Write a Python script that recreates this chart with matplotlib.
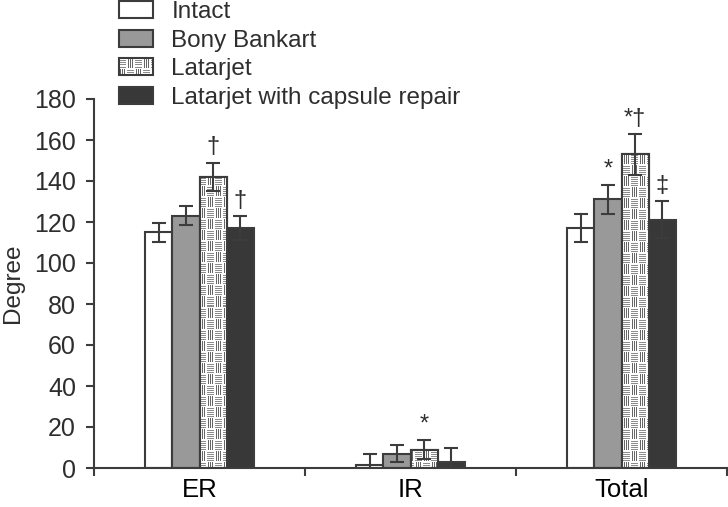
import numpy as np
import matplotlib
matplotlib.use("Agg")
import matplotlib.pyplot as plt
from matplotlib.patches import Patch, Rectangle
from matplotlib.legend_handler import HandlerBase
from matplotlib.image import BboxImage
from matplotlib.transforms import Bbox, TransformedBbox

plt.rcParams["font.family"] = ["Liberation Sans", "DejaVu Sans"]

# 데이터
categories = ["ER", "IR", "Total"]
groups = ["Intact", "Bony Bankart", "Latarjet", "Latarjet with capsule repair"]
means = {
    "Intact": [115, 1.5, 117],
    "Bony Bankart": [123, 7, 131],
    "Latarjet": [142, 9, 153],
    "Latarjet with capsule repair": [117, 3, 121],
}
errors = {
    "Intact": [4.7, 5.5, 7],
    "Bony Bankart": [4.7, 4.3, 7],
    "Latarjet": [7, 4.7, 10],
    "Latarjet with capsule repair": [6, 7, 9],
}
marks = {
    "Intact": ["", "", ""],
    "Bony Bankart": ["", "", "*"],
    "Latarjet": ["\u2020", "*", "*\u2020"],
    "Latarjet with capsule repair": ["\u2020", "", "\u2021"],
}

EDGE = "#3c3c3c"
TXT = "#2e2e2e"
colors = {
    "Intact": "white",
    "Bony Bankart": "#999999",
    "Latarjet": "white",
    "Latarjet with capsule repair": "#383838",
}


def make_texture(h, w):
    # 가로줄 블록과 세로줄 블록이 번갈아 나오는 무늬
    img = np.ones((h, w, 3))
    rr, cc = np.mgrid[0:h, 0:w]
    bw, bh = 8, 11
    br, bc = rr // bh, cc // bw
    dy, dx = rr % bh, cc % bw
    horiz = (br + bc) % 2 == 0
    hline = horiz & (dy % 2 == 1) & (dy <= 9) & (dx <= 6)
    vline = (~horiz) & (dx % 2 == 1) & (dx <= 5) & (dy <= 9)
    img[hline] = 0.55
    img[vline] = 0.4
    return img


class TextureHandler(HandlerBase):
    def create_artists(self, legend, orig_handle, xdescent, ydescent,
                       width, height, fontsize, trans):
        bb = Bbox.from_bounds(-xdescent, -ydescent, width, height)
        im = BboxImage(TransformedBbox(bb, trans), interpolation="nearest")
        im.set_data(make_texture(17, 35))
        rect = Rectangle((-xdescent, -ydescent), width, height,
                         facecolor="none", edgecolor=EDGE, lw=1.5,
                         transform=trans)
        return [im, rect]


W, H = 728, 507
fig = plt.figure(figsize=(W / 100, H / 100), dpi=100)
ax_l, ax_r, ax_b, ax_t = 94, 727, 468, 99
ax = fig.add_axes([ax_l / W, 1 - ax_b / H, (ax_r - ax_l) / W, (ax_b - ax_t) / H])

x = np.arange(len(categories)) + 0.5
width = 0.128
texture = make_texture(ax_b - ax_t, ax_r - ax_l)

for i, g in enumerate(groups):
    xs = x + (i - 1.5) * width
    bars = ax.bar(xs, means[g], width, color=colors[g], edgecolor=EDGE,
                  linewidth=1.5, zorder=2)
    if g == "Latarjet":
        for b in bars:
            im = ax.imshow(texture, extent=(0, 3, 0, 180), aspect="auto",
                           interpolation="nearest", zorder=2.5)
            im.set_clip_path(b)
        ax.bar(xs, means[g], width, color="none", edgecolor=EDGE,
               linewidth=1.5, zorder=3)
    ax.errorbar(xs, means[g], yerr=errors[g], fmt="none", ecolor=EDGE,
                elinewidth=1.5, capsize=4.7, capthick=1.5, zorder=4)
    for xi, m, e, s in zip(xs, means[g], errors[g], marks[g]):
        if s:
            ax.text(xi, m + e + 2, s, ha="center", va="bottom",
                    fontsize=17, color=TXT)

ax.set_xlim(0, 3)
ax.set_ylim(0, 180)
ax.set_yticks(np.arange(0, 181, 20))
ax.set_xticks([0, 1, 2, 3])
ax.set_xticklabels([])
ax.set_xticks(x, minor=True)
ax.set_xticklabels(categories, minor=True, fontsize=18.5)
ax.tick_params(axis="x", which="minor", length=0, pad=7)
ax.tick_params(axis="x", which="major", length=6, width=1.5, color=EDGE)
ax.tick_params(axis="y", length=6, width=1.5, color=EDGE, labelsize=18,
               labelcolor=TXT, pad=7)
ax.tick_params(axis="x", labelcolor=TXT)
ax.set_ylabel("Degree", fontsize=17.5, color=TXT, labelpad=7)

for s in ["top", "right"]:
    ax.spines[s].set_visible(False)
for s in ["left", "bottom"]:
    ax.spines[s].set_color(EDGE)
    ax.spines[s].set_linewidth(1.5)

handles = [Patch(facecolor=colors[g], edgecolor=EDGE, linewidth=1.5) for g in groups]
hmap = {handles[2]: TextureHandler()}
fig.legend(handles, groups, loc="upper left", bbox_to_anchor=(119 / W, 1 - 1 / H),
           frameon=False, fontsize=17.5, handlelength=1.4, handleheight=0.7,
           handletextpad=0.75, labelspacing=0.27, borderpad=0, borderaxespad=0,
           handler_map=hmap, labelcolor=TXT)

fig.savefig("out.png", dpi=100)
